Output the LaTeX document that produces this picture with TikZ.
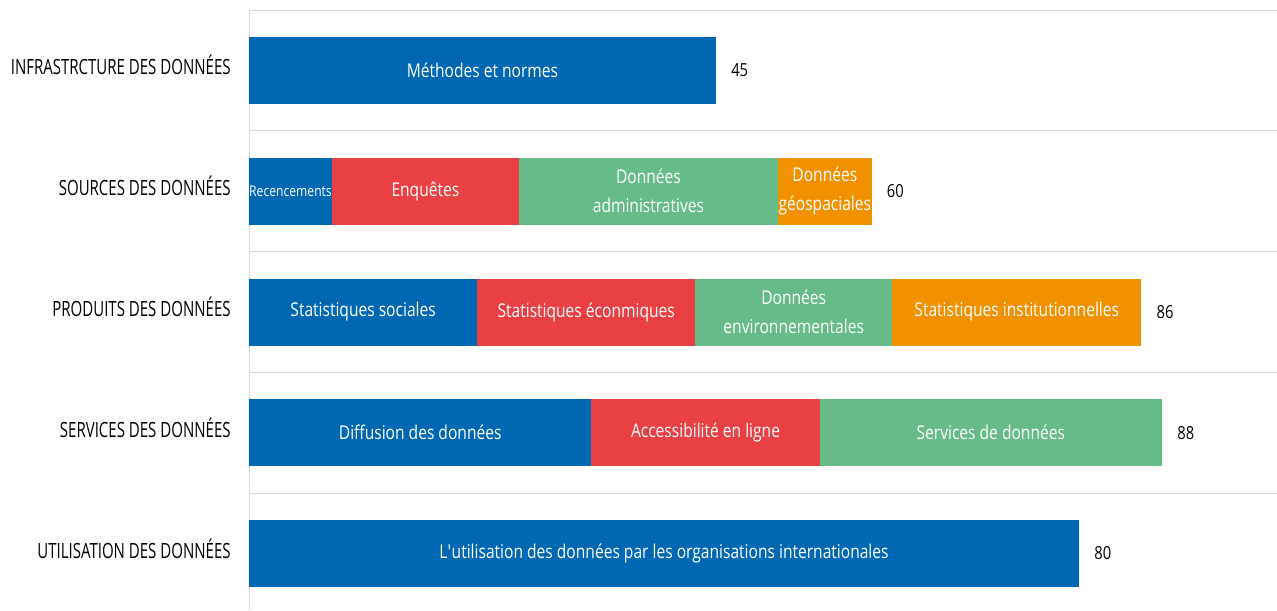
\documentclass[tikz,border=0pt]{standalone}
\usepackage{fontspec}
\setmainfont{Open Sans}[FakeStretch=0.82]
\newfontfamily\catfont{Open Sans}[FakeStretch=0.715]
\usetikzlibrary{positioning}
\definecolor{barblue}{RGB}{0,104,179}
\definecolor{barred}{RGB}{232,64,67}
\definecolor{bargreen}{RGB}{102,187,136}
\definecolor{barorange}{RGB}{242,145,0}
\definecolor{gridgrey}{RGB}{217,217,217}

\begin{document}
\begin{tikzpicture}[x=0.5pt,y=-0.5pt,
        seg/.style={inner sep=0pt,outer sep=0pt,minimum height=33.5pt,text=white,align=center,font=\fontsize{9.5}{14.5}\selectfont},
        cat/.style={anchor=base east,inner sep=0pt,font=\catfont\fontsize{10.5}{12}\selectfont},
        val/.style={inner sep=0pt,font=\fontsize{9}{11}\selectfont}]
            \useasboundingbox (0,0) rectangle (1277,610);
            \foreach \n in {1,...,5} {
                \pgfmathsetmacro{\yg}{10+120.75*(\n-1)}
                \draw [gridgrey] (249,\yg) -- (1277,\yg);
            }
            \draw [gridgrey] (249,10) -- (249,610);
            \foreach \i [count=\n] in {INFRASTRCTURE DES DONNÉES, SOURCES DES DONNÉES, PRODUITS DES DONNÉES, SERVICES DES DONNÉES, UTILISATION DES DONNÉES} {
                \pgfmathsetmacro{\yc}{75+120.75*(\n-1)}
                \node[cat] (C\n) at (231,\yc) {\i};
            }
            \foreach \bars [count=\n] in {
                {45/barblue/{Méthodes et normes}},
                {8/barblue/{\fontsize{7.4}{9}\selectfont Recencements}, 18/barred/{Enquêtes}, 25/bargreen/{Données\\administratives}, 9/barorange/{Données\\géospaciales}},
                {22/barblue/{Statistiques sociales}, 21/barred/{Statistiques éconmiques}, 19/bargreen/{Données\\environnementales}, 24/barorange/{Statistiques institutionnelles}},
                {33/barblue/{Diffusion des données}, 22/barred/{Accessibilité en ligne}, 33/bargreen/{Services de données}},
                {80/barblue/{L\textquotesingle utilisation des données par les organisations internationales}}} {
                \pgfmathsetmacro{\yc}{70.5+120.75*(\n-1)}
                \coordinate (S\n-0) at (249,\yc);
                \gdef\segtot{0}
                \foreach \v/\c/\i [count=\k] in \bars {
                    \pgfmathtruncatemacro{\p}{\k-1}
                    \node[seg,fill=\c,minimum width=\v*5.1875pt,right=0pt of S\n-\p] (S\n-\k) {\i};
                    \pgfmathtruncatemacro{\s}{\segtot+\v}
                    \xdef\segtot{\s}
                    \xdef\seglast{\k}
                }
                \node[val,right=7.5pt of S\n-\seglast] (V\n) {\segtot};
            }
\end{tikzpicture}
\end{document}
